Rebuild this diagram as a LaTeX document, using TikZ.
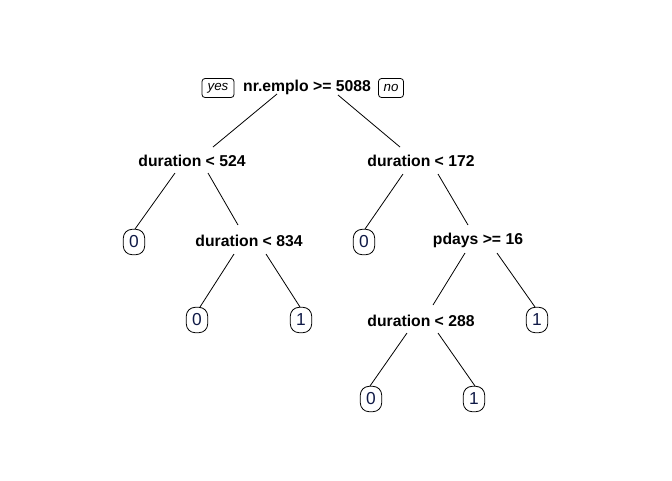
\documentclass[tikz,border=0pt]{standalone}
\usepackage{fontspec}
\setmainfont{Liberation Sans}
\usetikzlibrary{calc}
\definecolor{leaftext}{RGB}{15,25,70}
\tikzset{
  splitlabel/.style={inner sep=0pt, font=\fontsize{11.8}{14}\selectfont\bfseries},
  leafbox/.style={draw, rounded corners=6.5pt, inner sep=0pt, minimum width=16pt, minimum height=19pt, line width=0.6pt, text=leaftext, font=\fontsize{13}{15}\selectfont},
  yesno/.style={draw, rounded corners=2.25pt, inner sep=0pt, minimum height=14.25pt, line width=0.6pt, font=\fontsize{10}{12}\selectfont\itshape},
  branch/.style={line width=0.6pt}
}
\begin{document}
\begin{tikzpicture}[x=0.75pt,y=-0.75pt]
\useasboundingbox (0,0) rectangle (672,480);
% split labels
\node[splitlabel] (root) at (307,87) {nr.emplo >= 5088};
\node[yesno, minimum width=24pt] (yes) at (218,88) {yes};
\node[yesno, minimum width=18.75pt] (no) at (391,88) {no};
\node[splitlabel] (d524) at (192,161) {duration < 524};
\node[splitlabel] (d172) at (421,161) {duration < 172};
\node[splitlabel] (d834) at (249,241) {duration < 834};
\node[splitlabel] (pdays) at (478,240) {pdays >= 16};
\node[splitlabel] (d288) at (421,321) {duration < 288};
% leaves
\node[leafbox] (la) at (134,242) {0};
\node[leafbox] (lb) at (364,242) {0};
\node[leafbox] (lc) at (197,320) {0};
\node[leafbox] (ld) at (301,320) {1};
\node[leafbox] (le) at (537,320) {1};
\node[leafbox] (lf) at (371,399) {0};
\node[leafbox] (lg) at (474,399) {1};
% branches
\draw[branch] ($(root)+(-30,7)$) -- ($(d524)+(21,-14)$);
\draw[branch] ($(root)+(31,8)$) -- ($(d172)+(-21,-14)$);
\draw[branch] ($(d524)+(-17,12)$) -- ($(la)+(1,-13)$);
\draw[branch] ($(d524)+(16,12)$) -- ($(d834)+(-11,-16)$);
\draw[branch] ($(d172)+(-18,13)$) -- ($(lb)+(1,-13)$);
\draw[branch] ($(d172)+(17,13)$) -- ($(pdays)+(-10,-15)$);
\draw[branch] ($(d834)+(-15,13)$) -- ($(lc)+(3,-13)$);
\draw[branch] ($(d834)+(17,13)$) -- ($(ld)+(-1,-13)$);
\draw[branch] ($(pdays)+(-13,13)$) -- ($(d288)+(12,-16)$);
\draw[branch] ($(pdays)+(19,13)$) -- ($(le)+(-2,-13)$);
\draw[branch] ($(d288)+(-14,12)$) -- ($(lf)+(-1,-13)$);
\draw[branch] ($(d288)+(17,12)$) -- ($(lg)+(1,-13)$);
\end{tikzpicture}
\end{document}
